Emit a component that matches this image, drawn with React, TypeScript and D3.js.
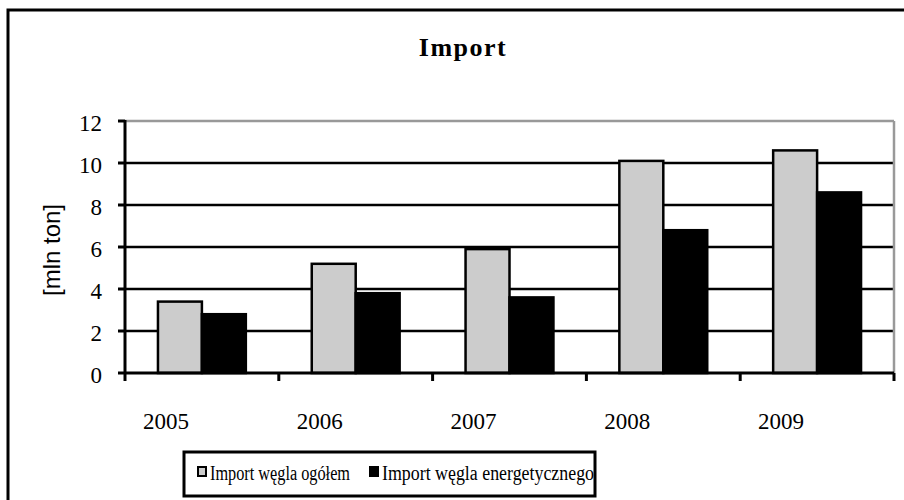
import React from 'react';
import * as d3 from 'd3';

const years = ['2005', '2006', '2007', '2008', '2009'];
const seriesNames = ['Import węgla ogółem', 'Import węgla energetycznego'];
const importTotal = [3.4, 5.2, 5.9, 10.1, 10.6];
const importEnergy = [2.8, 3.8, 3.6, 6.8, 8.6];
const yTicks = [0, 2, 4, 6, 8, 10, 12];
const seriesColors = ['#cccccc', '#000000'];

const W = 904;
const H = 500;
const plot = { left: 125, right: 894, top: 121, bottom: 373 };

const App = () => {
  const x = d3.scaleBand<string>().domain(years).range([plot.left, plot.right]).paddingInner(0).paddingOuter(0);
  // Excel-style gap width 150%: two bars + 1.5 bar widths of gap per category
  const barW = x.bandwidth() / 3.5;
  const inner = d3.scaleBand<number>().domain([0, 1]).range([barW * 0.75, barW * 2.75]).padding(0);
  const y = d3.scaleLinear().domain([0, 12]).range([plot.bottom, plot.top]);

  const rows = years.map((yr, i) => ({ yr, vals: [importTotal[i], importEnergy[i]] }));
  const serif = '"Liberation Serif", "Times New Roman", serif';

  // legend layout (x of each marker, text width as drawn in the original)
  const legendX = [198, 370];
  const legendTextW = [140, 212];

  return (
    <svg width={W} height={H} style={{ position: 'absolute', left: 0, top: 0, background: '#fff' }}>
      <rect x={8} y={10} width={W + 10} height={H + 10} fill="#fff" stroke="#000" strokeWidth={3} />

      <text x={463} y={56} textAnchor="middle" fontFamily={serif} fontWeight="bold" fontSize={26}
        letterSpacing={1.5}>Import</text>

      {/* grid lines */}
      {yTicks.filter(t => t > 0 && t < 12).map(t => (
        <line key={t} x1={plot.left} x2={plot.right} y1={y(t)} y2={y(t)} stroke="#000" strokeWidth={2.5} />
      ))}
      <line x1={plot.left} x2={plot.right} y1={y(12)} y2={y(12)} stroke="#999" strokeWidth={2.5} />
      <line x1={plot.right} x2={plot.right} y1={y(12)} y2={y(0)} stroke="#999" strokeWidth={2.5} />

      {/* bars */}
      {rows.map(r => (
        <g key={r.yr} transform={`translate(${x(r.yr)},0)`}>
          {r.vals.map((v, j) => (
            <rect key={j} x={inner(j)} y={y(v)} width={inner.bandwidth()} height={y(0) - y(v)}
              fill={seriesColors[j]} stroke="#000" strokeWidth={2.5} />
          ))}
        </g>
      ))}

      {/* axes */}
      <line x1={plot.left} x2={plot.left} y1={y(12) - 1} y2={y(0)} stroke="#000" strokeWidth={3} />
      <line x1={plot.left} x2={plot.right} y1={y(0)} y2={y(0)} stroke="#000" strokeWidth={3} />
      {yTicks.map(t => (
        <g key={t}>
          <line x1={plot.left - 7} x2={plot.left} y1={y(t)} y2={y(t)} stroke="#000" strokeWidth={3} />
          <text x={102} y={y(t)} dy="0.45em" textAnchor="end" fontFamily={serif} fontSize={23}>{t}</text>
        </g>
      ))}
      {[...years.map(yr => x(yr) as number), plot.right].map((px, i) => (
        <line key={i} x1={px} x2={px} y1={y(0)} y2={y(0) + 8} stroke="#000" strokeWidth={3} />
      ))}
      {years.map(yr => (
        <text key={yr} x={(x(yr) as number) + x.bandwidth() / 2 - 36} y={429} textAnchor="middle"
          fontFamily={serif} fontSize={23}>{yr}</text>
      ))}

      <text transform="translate(60,250) rotate(-90)" textAnchor="middle"
        fontFamily='"Liberation Sans", Arial, sans-serif' fontSize={24}>[mln ton]</text>

      {/* legend */}
      <rect x={184} y={452} width={411} height={44} fill="#fff" stroke="#000" strokeWidth={3} />
      {seriesNames.map((name, i) => (
        <g key={name}>
          <rect x={legendX[i]} y={467} width={8} height={9} fill={seriesColors[i]} stroke="#000" strokeWidth={2} />
          <text x={legendX[i] + 12} y={480} fontFamily={serif} fontSize={20}
            textLength={legendTextW[i]} lengthAdjust="spacingAndGlyphs">{name}</text>
        </g>
      ))}
    </svg>
  );
};

export default App;
